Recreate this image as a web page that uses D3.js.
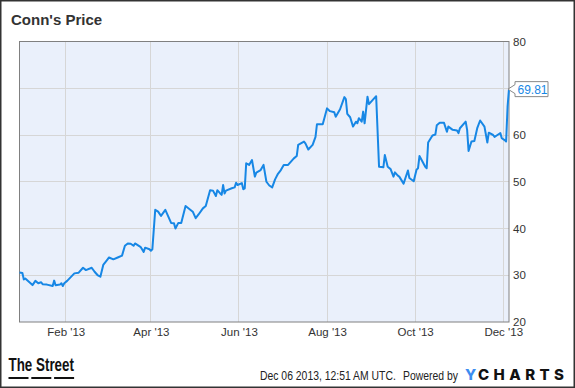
<!DOCTYPE html>
<html>
<head>
<meta charset="utf-8">
<script src="https://cdn.jsdelivr.net/npm/d3@7"></script>
<style>
  body { margin: 0; background: #fff; }
  svg { display: block; font-family: "Liberation Sans", Arial, sans-serif; }
</style>
</head>
<body>
<div id="chart"></div>
<script>
const chartTitle = "Conn's Price";

const dates = [
  "2012-12-31", "2013-01-02", "2013-01-03", "2013-01-04", "2013-01-09", "2013-01-11",
  "2013-01-13", "2013-01-15", "2013-01-16", "2013-01-19", "2013-01-23", "2013-01-24",
  "2013-01-25", "2013-01-28", "2013-01-29", "2013-01-30", "2013-01-31", "2013-02-02",
  "2013-02-07", "2013-02-10", "2013-02-13", "2013-02-15", "2013-02-19", "2013-02-21",
  "2013-02-23", "2013-02-25", "2013-02-27", "2013-03-02", "2013-03-03", "2013-03-06",
  "2013-03-09", "2013-03-12", "2013-03-14", "2013-03-16", "2013-03-18", "2013-03-20",
  "2013-03-21", "2013-03-25", "2013-03-27", "2013-03-28", "2013-03-31", "2013-04-01",
  "2013-04-02", "2013-04-04", "2013-04-06", "2013-04-08", "2013-04-11", "2013-04-15",
  "2013-04-17", "2013-04-18", "2013-04-20", "2013-04-22", "2013-04-25", "2013-04-30",
  "2013-05-02", "2013-05-04", "2013-05-07", "2013-05-09", "2013-05-12", "2013-05-14",
  "2013-05-16", "2013-05-17", "2013-05-19", "2013-05-20", "2013-05-21", "2013-05-22",
  "2013-05-23", "2013-05-27", "2013-05-29", "2013-05-30", "2013-05-31", "2013-06-03",
  "2013-06-04", "2013-06-05", "2013-06-06", "2013-06-08", "2013-06-10", "2013-06-12",
  "2013-06-13", "2013-06-16", "2013-06-18", "2013-06-20", "2013-06-22", "2013-06-24",
  "2013-06-26", "2013-06-28", "2013-06-30", "2013-07-02", "2013-07-05", "2013-07-09",
  "2013-07-11", "2013-07-12", "2013-07-16", "2013-07-17", "2013-07-19", "2013-07-22",
  "2013-07-24", "2013-07-25", "2013-07-29", "2013-08-01", "2013-08-03", "2013-08-06",
  "2013-08-07", "2013-08-10", "2013-08-13", "2013-08-14", "2013-08-15", "2013-08-17",
  "2013-08-19", "2013-08-21", "2013-08-22", "2013-08-23", "2013-08-25", "2013-08-26",
  "2013-08-27", "2013-08-29", "2013-08-30", "2013-09-04", "2013-09-06", "2013-09-09",
  "2013-09-10", "2013-09-12", "2013-09-14", "2013-09-16", "2013-09-17", "2013-09-19",
  "2013-09-20", "2013-09-23", "2013-09-26", "2013-09-27", "2013-09-30", "2013-10-02",
  "2013-10-03", "2013-10-04", "2013-10-08", "2013-10-09", "2013-10-10", "2013-10-13",
  "2013-10-15", "2013-10-16", "2013-10-18", "2013-10-21", "2013-10-23", "2013-10-24",
  "2013-10-27", "2013-10-30", "2013-10-31", "2013-11-01", "2013-11-05", "2013-11-06",
  "2013-11-07", "2013-11-09", "2013-11-11", "2013-11-13", "2013-11-15", "2013-11-18",
  "2013-11-20", "2013-11-21", "2013-11-24", "2013-11-25", "2013-11-27", "2013-11-29",
  "2013-11-30", "2013-12-02", "2013-12-03", "2013-12-04", "2013-12-05"
];

const prices = [
  30.6, 30.5, 29.1, 29.3, 27.9, 28.8,
  28.3, 28.5, 28.1, 28.0, 27.7, 28.85,
  27.85, 28.0, 28.3, 27.7, 28.3, 28.8,
  30.4, 30.55, 31.6, 31.1, 31.6, 30.75,
  30.05, 29.7, 32.2, 33.4, 33.8, 33.4,
  33.8, 34.2, 36.3, 36.8, 36.75, 36.3,
  36.8, 36.0, 35.0, 35.9, 35.55, 35.25,
  35.55, 44.0, 43.6, 42.7, 44.0, 41.2,
  41.1, 40.0, 41.2, 41.2, 44.8, 43.6,
  42.2, 43.0, 44.3, 44.8, 48.2, 48.1,
  46.95, 48.2, 47.5, 47.2, 49.3, 47.5,
  48.1, 48.6, 48.8, 49.8, 49.3, 49.7,
  48.4, 48.6, 53.95, 53.6, 54.65, 51.1,
  51.95, 52.5, 53.6, 50.0, 49.2, 48.8,
  50.5, 51.7, 52.5, 53.6, 53.6, 55.0,
  55.5, 57.9, 58.6, 58.2, 56.9, 57.9,
  59.6, 62.3, 62.3, 65.7, 65.1, 64.85,
  63.9, 65.5, 68.1, 67.7, 64.5, 63.8,
  61.8, 62.85, 62.5, 63.6, 62.85, 65.0,
  62.5, 68.2, 66.6, 68.3, 53.2, 53.1,
  55.7, 53.2, 52.7, 51.1, 52.0, 51.3,
  51.1, 49.6, 52.4, 50.8, 50.1, 52.6,
  52.9, 55.5, 53.2, 52.9, 58.4, 59.9,
  60.1, 62.1, 62.6, 62.6, 60.7, 61.8,
  61.1, 60.95, 60.4, 61.45, 62.85, 61.1,
  56.6, 58.6, 58.7, 61.45, 63.1, 61.8,
  58.4, 60.5, 60.0, 59.6, 60.0, 60.4,
  59.3, 58.9, 58.6, 66.0, 69.81
];

// 70 sits under the last-price flag in the original, so it only gets a grid line
const gridValues = [30, 40, 50, 60, 70];
const yTicks = [20, 30, 40, 50, 60, 80];
const lastPriceLabel = "69.81";
const footerStamp = "Dec 06 2013, 12:51 AM UTC.";
const poweredBy = "Powered by";
const sourceLogo = "The Street";

const width = 575;
const height = 388;
const plot = { left: 19.5, right: 509, top: 41.5, bottom: 322 };

const parseDate = d3.timeParse("%Y-%m-%d");
const data = dates.map((d, i) => ({ date: parseDate(d), price: prices[i] }));

const x = d3.scaleTime()
  .domain(d3.extent(data, d => d.date))
  .range([plot.left, plot.right]);

const y = d3.scaleLinear()
  .domain([20, 80])
  .range([plot.bottom, plot.top]);

// every other month, starting in February
const tickMonths = d3.timeMonth.filter(d => d.getMonth() % 2 === 1);
const crisp = v => Math.round(v - 0.5) + 0.5;

const svg = d3.select("#chart").append("svg")
  .attr("width", width)
  .attr("height", height);

svg.append("rect")
  .attr("width", width)
  .attr("height", height)
  .attr("fill", "#fff");

svg.append("text")
  .attr("x", 11)
  .attr("y", 25)
  .attr("fill", "#333")
  .style("font-size", "15px")
  .style("font-weight", "bold")
  .text(chartTitle);

// plot background
svg.append("rect")
  .attr("x", plot.left)
  .attr("y", plot.top)
  .attr("width", plot.right - plot.left)
  .attr("height", plot.bottom - plot.top)
  .attr("fill", "#eaf0fb");

// grid
svg.append("g")
  .selectAll("line")
  .data(gridValues)
  .enter().append("line")
  .attr("x1", plot.left)
  .attr("x2", plot.right)
  .attr("y1", d => crisp(y(d)))
  .attr("y2", d => crisp(y(d)))
  .attr("stroke", "#d6d6d6")
  .attr("stroke-width", 1);

svg.append("g")
  .selectAll("line")
  .data(x.ticks(tickMonths))
  .enter().append("line")
  .attr("x1", d => crisp(x(d)))
  .attr("x2", d => crisp(x(d)))
  .attr("y1", plot.top)
  .attr("y2", plot.bottom)
  .attr("stroke", "#d6d6d6")
  .attr("stroke-width", 1);

// plot frame
svg.append("rect")
  .attr("x", plot.left)
  .attr("y", plot.top)
  .attr("width", plot.right - plot.left)
  .attr("height", plot.bottom - plot.top)
  .attr("fill", "none")
  .attr("stroke", "#808080")
  .attr("stroke-width", 1);

// axes (labels only, frame drawn above)
const yAxis = svg.append("g")
  .attr("transform", "translate(" + plot.right + ",0)")
  .call(d3.axisRight(y).tickValues(yTicks).tickSize(0).tickPadding(4));

const xAxis = svg.append("g")
  .attr("transform", "translate(0," + plot.bottom + ")")
  .call(d3.axisBottom(x).ticks(tickMonths).tickFormat(d3.timeFormat("%b '%y")).tickSize(0).tickPadding(6));

[yAxis, xAxis].forEach(axis => {
  axis.select(".domain").remove();
  axis.selectAll("text")
    .attr("fill", "#333")
    .style("font-family", "'Liberation Sans', Arial, sans-serif")
    .style("font-size", "11.5px");
});

// price line
const line = d3.line()
  .x(d => x(d.date))
  .y(d => y(d.price));

svg.append("path")
  .datum(data)
  .attr("fill", "none")
  .attr("stroke", "#1787e5")
  .attr("stroke-width", 2)
  .attr("stroke-linejoin", "round")
  .attr("d", line);

// last price flag
const last = data[data.length - 1];
const fx = x(last.date), fy = y(last.price);
const flag = svg.append("g");

flag.append("path")
  .attr("d", "M" + (fx - 1) + "," + fy +
    "L" + (fx + 6) + "," + (fy - 4.5) +
    "V" + (fy - 7.5) + "H" + (fx + 39) +
    "V" + (fy + 7.5) + "H" + (fx + 6) +
    "V" + (fy + 4.5) + "Z")
  .attr("fill", "#fff")
  .attr("stroke", "#888")
  .attr("stroke-width", 1);

flag.append("text")
  .attr("x", fx + 8.5)
  .attr("y", fy + 4.5)
  .attr("fill", "#1787e5")
  .style("font-size", "12px")
  .text(lastPriceLabel);

// footer -- condensed faces are not available, so squeeze horizontally
svg.append("text")
  .attr("transform", "translate(8.5,371) scale(0.705,1)")
  .attr("fill", "#111")
  .style("font-size", "19px")
  .style("font-weight", "bold")
  .text(sourceLogo);

svg.append("g")
  .selectAll("rect")
  .data([0, 1, 2])
  .enter().append("rect")
  .attr("x", i => 8.5 + i * 22.8)
  .attr("y", 377)
  .attr("width", 20)
  .attr("height", 2)
  .attr("fill", "#111");

svg.append("text")
  .attr("transform", "translate(260,379.5) scale(0.8,1)")
  .attr("fill", "#222")
  .style("font-size", "13px")
  .text(footerStamp);

svg.append("text")
  .attr("transform", "translate(403,379.5) scale(0.8,1)")
  .attr("fill", "#222")
  .style("font-size", "13px")
  .text(poweredBy);

svg.append("text")
  .attr("x", 465)
  .attr("y", 379.5)
  .attr("fill", "#3c8df0")
  .style("font-family", "Inter, 'Open Sans', sans-serif")
  .style("font-size", "15px")
  .style("font-weight", 800)
  .text("Y");

svg.append("text")
  .attr("x", 478)
  .attr("y", 379.5)
  .attr("fill", "#111")
  .attr("textLength", 86)
  .attr("lengthAdjust", "spacing")
  .style("font-family", "Inter, 'Open Sans', sans-serif")
  .style("font-size", "15px")
  .style("font-weight", 800)
  .text("CHARTS");

// outer frame
svg.append("rect")
  .attr("x", 0.75)
  .attr("y", 0.75)
  .attr("width", width - 1.5)
  .attr("height", height - 1.5)
  .attr("fill", "none")
  .attr("stroke", "#333")
  .attr("stroke-width", 1.5);
</script>
</body>
</html>
